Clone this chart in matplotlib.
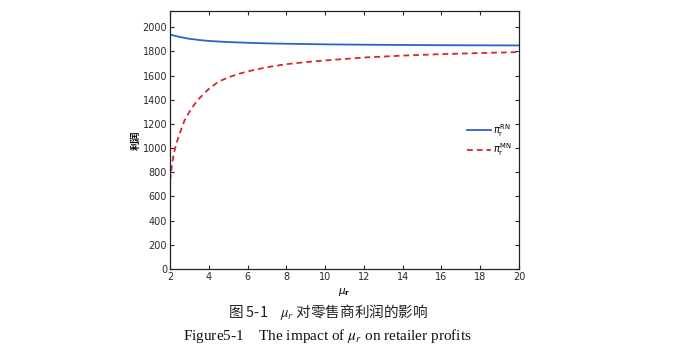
import matplotlib
matplotlib.use("Agg")
import matplotlib.pyplot as plt

# data
x_rn = [2, 2.5, 3, 3.5, 4, 5, 6, 7, 8, 10, 12, 14, 16, 18, 20]
y_rn = [1940, 1920, 1905, 1895, 1887, 1878, 1872, 1867, 1864, 1859, 1856, 1854, 1852, 1851, 1850]

x_mn = [2, 2.1, 2.2, 2.35, 2.5, 2.75, 3, 3.25, 3.5, 4, 4.5, 5, 5.5, 6, 7, 8, 9, 10, 12, 14, 16, 18, 20]
y_mn = [730, 860, 960, 1050, 1120, 1230, 1300, 1360, 1410, 1490, 1550, 1585, 1613, 1635, 1670, 1695,
        1712, 1726, 1750, 1766, 1778, 1787, 1795]

xticks = [2, 4, 6, 8, 10, 12, 14, 16, 18, 20]
yticks = [0, 200, 400, 600, 800, 1000, 1200, 1400, 1600, 1800, 2000]
labels = [r'$\pi_\mathrm{r}^\mathrm{RN}$', r'$\pi_\mathrm{r}^\mathrm{MN}$']

plt.rcParams['font.family'] = ['DejaVu Sans', 'Noto Sans CJK SC']

W, H = 678, 352
fig = plt.figure(figsize=(W / 100, H / 100), dpi=100)
ax = fig.add_axes([170 / W, (H - 269) / H, (519 - 170) / W, (269 - 11) / H])

ax.plot(x_rn, y_rn, color='#2f62c8', lw=1.3, label=labels[0])
ax.plot(x_mn, y_mn, color='#d4282e', lw=1.3, ls=(0, (3.2, 2.2)), label=labels[1])

ax.set_xlim(2, 20)
ax.set_ylim(0, 2135)
ax.set_xticks(xticks)
ax.set_yticks(yticks)
ax.tick_params(direction='in', top=True, right=True, length=3, width=0.8,
               labelsize=7, colors='#2a2a2a', pad=2)
for s in ax.spines.values():
    s.set_linewidth(0.9)
    s.set_color('#222222')

ax.set_ylabel('利润', family=['Noto Sans CJK SC'], fontsize=7, fontweight='bold', labelpad=1)
ax.set_xlabel(r'$\mu_\mathbf{r}$', fontsize=7.5, labelpad=3)

leg = ax.legend(loc='center left', bbox_to_anchor=(0.84, 0.5), frameon=False, fontsize=7,
                handlelength=2.5, handletextpad=0.2, labelspacing=0.3, borderaxespad=0)

fig.text(328 / W, 1 - 312 / H, r'图 5-1    $\mu_r$ 对零售商利润的影响',
         family=['Noto Sans CJK SC'], fontsize=10.5, ha='center', va='center',
         math_fontfamily='stix', color='#222222')
fig.text(327 / W, 1 - 336 / H, r'Figure5-1    The impact of $\mu_r$ on retailer profits',
         family=['Liberation Serif'], fontsize=11, ha='center', va='center',
         math_fontfamily='stix', color='#111111')

fig.savefig('out.png', dpi=100)
